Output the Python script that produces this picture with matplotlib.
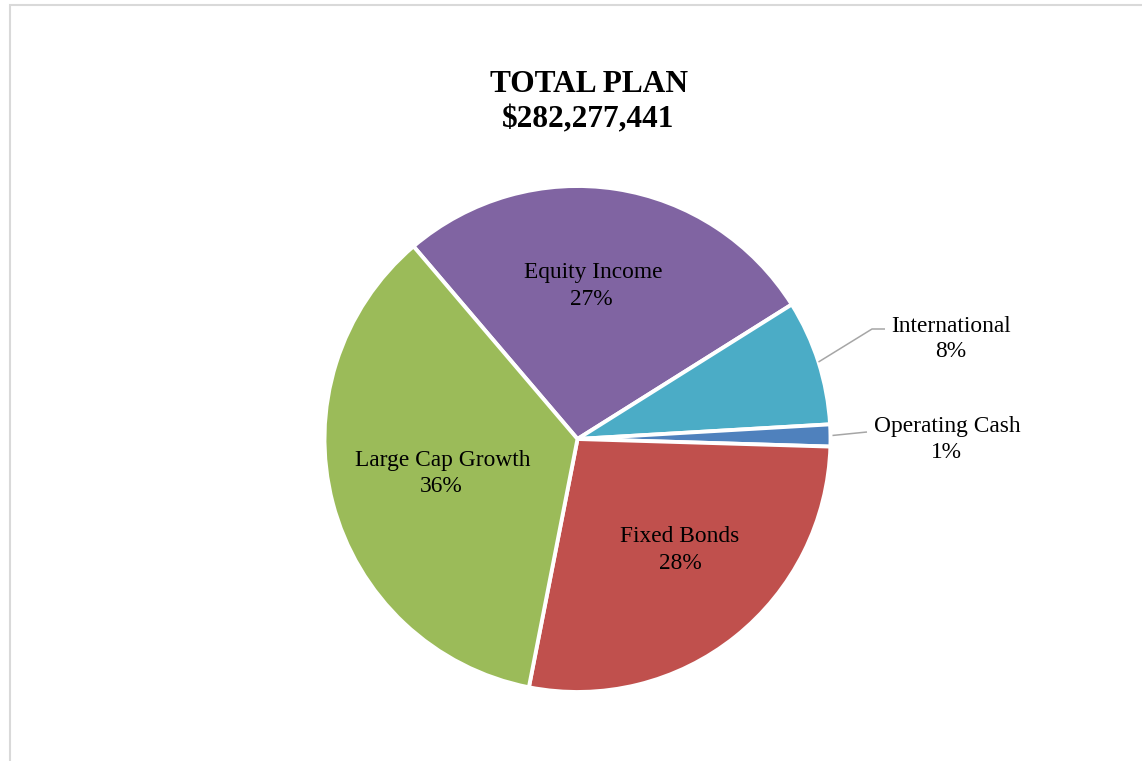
import matplotlib
matplotlib.use("Agg")
import matplotlib.pyplot as plt
from matplotlib.patches import Rectangle
import numpy as np

# ---- data ----
categories = ["Equity Income", "International", "Operating Cash", "Fixed Bonds", "Large Cap Growth"]
shares = [27.3, 8.0, 1.4, 27.6, 35.7]
colors = ["#8064A2", "#4BACC6", "#4F81BD", "#C0504D", "#9BBB59"]
title_lines = ["TOTAL PLAN", "$282,277,441"]

W, H = 1142, 761
plt.rcParams['font.family'] = ['Liberation Serif', 'DejaVu Serif']

fig = plt.figure(figsize=(W / 100, H / 100), dpi=100)
ax = fig.add_axes([0, 0, 1, 1])

cx, cy, R = 577.5, H - 439, 253
wedges, _ = ax.pie(shares, colors=colors, startangle=130.4, counterclock=False,
                   center=(cx, cy), radius=R,
                   wedgeprops=dict(edgecolor="white", linewidth=2.8))
ax.set_xlim(0, W)
ax.set_ylim(0, H)
ax.set_aspect('equal')
ax.axis('off')

def y(py):
    return H - py

# labels: (line1 center x, line1 baseline, line2 center x, line2 baseline)
label_pos = {
    "Equity Income": (593, 278.3, 591, 305.0),
    "International": (951, 331.7, 951, 357.3),
    "Operating Cash": (947.5, 431.7, 946.7, 458.3),
    "Fixed Bonds": (680, 541.7, 680, 569.3),
    "Large Cap Growth": (443, 465.7, 441, 492.3),
}
for cat, val in zip(categories, shares):
    x1, b1, x2, b2 = label_pos[cat]
    ax.text(x1, y(b1), cat, ha='center', va='baseline', fontsize=16.8, color='black')
    ax.text(x2, y(b2), f"{val:.0f}%", ha='center', va='baseline', fontsize=16.8, color='black')

# leader lines
def edge_point(w):
    th = np.deg2rad((w.theta1 + w.theta2) / 2)
    return cx + R * np.cos(th), cy + R * np.sin(th)

w_int = wedges[categories.index("International")]
sx, sy = edge_point(w_int)
ax.plot([sx, 872, 885], [sy, y(329), y(329)], color="#A6A6A6", lw=1.1, solid_capstyle='butt')
w_cash = wedges[categories.index("Operating Cash")]
sx, sy = edge_point(w_cash)
ax.plot([sx + 2, 867], [sy, y(432)], color="#A6A6A6", lw=1.1, solid_capstyle='butt')

# title
ax.text(589, y(92.3), title_lines[0], ha='center', va='baseline', fontsize=22.6, fontweight='bold')
ax.text(588, y(127.3), title_lines[1], ha='center', va='baseline', fontsize=22.6, fontweight='bold')

# chart border
ax.add_patch(Rectangle((10, -10), W + 20, y(4.5) + 10, fill=False,
                       edgecolor="#D9D9D9", linewidth=1.5, clip_on=False))

fig.savefig("out.png", dpi=100)
